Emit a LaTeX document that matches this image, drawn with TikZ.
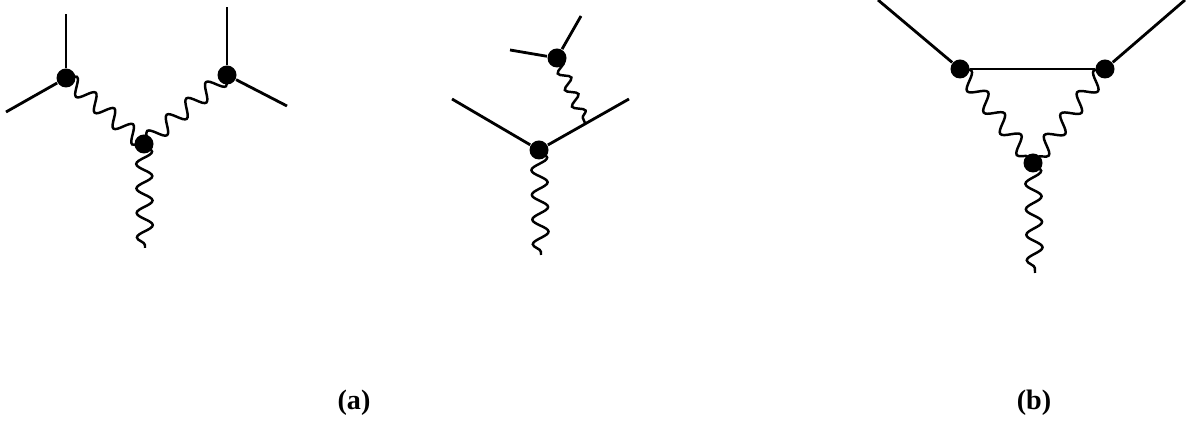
\documentclass[tikz,border=0pt]{standalone}
\usepackage{fontspec}
\setmainfont{Liberation Serif}
\usetikzlibrary{decorations.pathmorphing}

\begin{document}
\begin{tikzpicture}[
	vertexdot/.style={circle, fill=black, inner sep=0pt, minimum size=0.19cm},
	fermion/.style={black, line width=0.8pt},
	boson/.style={black, line width=0.7pt, decorate, decoration={snake, segment length=#1, amplitude=0.08cm}},
	bosonsmall/.style={black, line width=0.7pt, decorate, decoration={snake, segment length=0.18cm, amplitude=0.055cm}},
	flipwave/.style={decoration={mirror}},
	caption/.style={font=\fontsize{8}{10}\selectfont\bfseries, inner sep=0pt}
]
	\useasboundingbox (0,0) rectangle (11.9,4.22);
	\node[vertexdot] (a1) at (0.66,3.44) {};
	\node[vertexdot] (a2) at (2.27,3.47) {};
	\node[vertexdot] (a3) at (1.44,2.78) {};
	\node[vertexdot] (b1) at (5.57,3.64) {};
	\node[vertexdot] (b2) at (5.39,2.72) {};
	\node[vertexdot] (c1) at (9.60,3.53) {};
	\node[vertexdot] (c2) at (11.05,3.53) {};
	\node[vertexdot] (c3) at (10.33,2.59) {};
	\coordinate (a1up) at (0.66,4.08);
	\coordinate (a1left) at (0.06,3.10);
	\coordinate (a2up) at (2.27,4.15);
	\coordinate (a2right) at (2.87,3.16);
	\coordinate (a3down) at (1.45,1.74);
	\coordinate (b1up) at (5.81,4.06);
	\coordinate (b1left) at (5.10,3.72);
	\coordinate (b2left) at (4.52,3.23);
	\coordinate (b2right) at (6.29,3.23);
	\coordinate (b2mid) at (5.85,2.99);
	\coordinate (b2down) at (5.41,1.67);
	\coordinate (c1left) at (8.78,4.22);
	\coordinate (c2right) at (11.85,4.22);
	\coordinate (c3down) at (10.35,1.49);
	\foreach \from/\to in {a1/a1up,a1/a1left,a2/a2up,a2/a2right,b1/b1up,b1/b1left,b2/b2left,b2/b2right,c1/c1left,c2/c2right,c1/c2} {
		\draw[fermion] (\from) -- (\to);
	}
	\draw[boson=0.245cm] (a1.center) -- (a3.center);
	\draw[boson=0.255cm] (a2.center) -- (a3.center);
	\draw[boson=0.245cm] (a3.center) -- (a3down);
	\draw[bosonsmall] (b1.center) -- (b2mid);
	\draw[boson=0.247cm] (b2.center) -- (b2down);
	\draw[boson=0.27cm] (c1.center) -- (c3.center);
	\draw[boson=0.27cm, flipwave] (c2.center) -- (c3.center);
	\draw[boson=0.255cm] (c3.center) -- (c3down);
	\node[caption] (labela) at (3.54,0.19) {(a)};
	\node[caption] (labelb) at (10.34,0.19) {(b)};
\end{tikzpicture}
\end{document}
